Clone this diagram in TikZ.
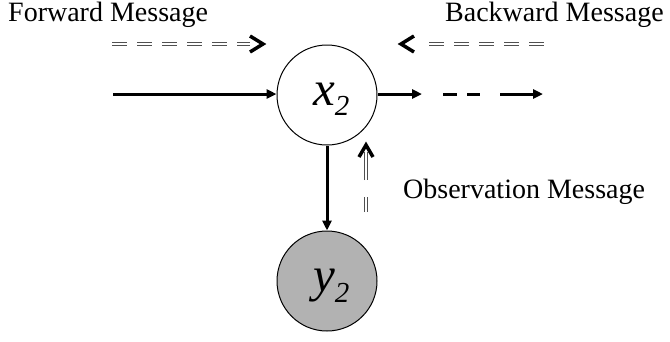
\documentclass[tikz,border=0pt]{standalone}
\usepackage{fontspec}
\setmainfont{Liberation Serif}
\usetikzlibrary{arrows.meta,calc}
\definecolor{nodegray}{RGB}{178,178,178}
\definecolor{msggray}{RGB}{80,80,80}
\tikzset{
  varnode/.style={circle, draw=black, line width=1pt, minimum size=100pt, inner sep=0pt},
  obsnode/.style={varnode, fill=nodegray},
  mainarrow/.style={line width=3pt, -{Triangle[length=10pt,width=9pt]}},
  mainline/.style={line width=3pt},
  msgline/.style={draw=msggray, line width=1.3pt, double=white, double distance=1.2pt},
  chevron/.style={line width=3.5pt, line join=miter},
  lbl/.style={anchor=base west, inner sep=0pt, font=\fontsize{28}{28}\selectfont},
}
\begin{document}
\begin{tikzpicture}[x=1pt, y=-1pt]
\useasboundingbox (0,0) rectangle (670,341);
% nodes
\node[varnode] (x2) at (327,95) {};
\node[obsnode] (y2) at (327,281) {};
\node[anchor=base west, inner sep=0pt] (x2lab) at (313,105)
  {\fontsize{49}{49}\selectfont\textit{x\raisebox{-10pt}{\fontsize{29}{29}\selectfont 2}}};
\node[anchor=base west, inner sep=0pt] (y2lab) at (313,291)
  {\fontsize{49}{49}\selectfont\textit{y\raisebox{-11pt}{\fontsize{29}{29}\selectfont 2}}};
% texts
\node[lbl] (fwdtxt) at (8,21.5) {Forward Message};
\node[lbl] (bwdtxt) at (445,21.5) {Backward Message};
\node[lbl] (obstxt) at (403,198) {Observation Message};
% coordinates
\coordinate (inL) at (113,94);
\coordinate (outA) at (422,94);
\coordinate (dA) at (443,94);
\coordinate (dB) at (480,94);
\coordinate (oA) at (500,94);
\coordinate (oB) at (543,94);
% main connectors
\draw[mainarrow] (inL) -- (x2.west |- inL);
\draw[mainarrow] (x2.east |- outA) -- (outA);
\draw[mainline, dash pattern=on 14pt off 10pt] (dA) -- (dB);
\draw[mainarrow] (oA) -- (oB);
\draw[mainarrow] (x2.south) -- (y2.north);
% forward message
\coordinate (fA) at (112,44);
\coordinate (fB) at (250,44);
\coordinate (fT) at (263,44);
\draw[msgline, dash pattern=on 15pt off 10pt] (fA) -- (fB);
\draw[chevron] ($(fT)+(-13,-8)$) -- (fT) -- ($(fT)+(-13,8)$);
% backward message
\coordinate (bT) at (401,44);
\coordinate (bA) at (429,44);
\coordinate (bB) at (544,44);
\draw[msgline, dash pattern=on 15pt off 10pt] (bA) -- (bB);
\draw[chevron] ($(bT)+(13,-8)$) -- (bT) -- ($(bT)+(13,8)$);
% observation message
\coordinate (oT) at (366,145);
\coordinate (oS) at (366,212);
\coordinate (oE) at (366,152);
\draw[msgline, dash pattern=on 15pt off 17pt on 30pt off 10pt] (oS) -- (oE);
\draw[chevron] ($(oT)+(-7,12)$) -- (oT) -- ($(oT)+(7,12)$);
\end{tikzpicture}
\end{document}
